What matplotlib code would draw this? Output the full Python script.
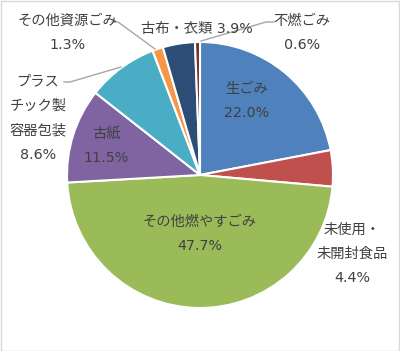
import matplotlib
matplotlib.use("Agg")
import matplotlib.pyplot as plt
from matplotlib.patches import Rectangle

plt.rcParams['font.family'] = ['DejaVu Sans', 'Noto Sans CJK JP']

categories = ["生ごみ", "未使用・\n未開封食品", "その他燃やすごみ", "古紙",
              "プラス\nチック製\n容器包装", "その他資源ごみ", "古布・衣類", "不燃ごみ"]
values = [22.0, 4.4, 47.7, 11.5, 8.6, 1.3, 3.9, 0.6]
colors = ["#4F81BD", "#C0504D", "#9BBB59", "#8064A2", "#4BACC6", "#F79646", "#2C4D75", "#772C2A"]

W, H = 400, 351
CX, CY, R = 200, 175, 133

def d(px, py):
    return ((px - CX) / R, (CY - py) / R)

fig = plt.figure(figsize=(W / 100, H / 100), dpi=100)
ax = fig.add_axes([0, 0, 1, 1])
ax.pie(values, colors=colors, startangle=90, counterclock=False, radius=1,
       wedgeprops=dict(edgecolor="white", linewidth=1.5))
ax.set_xlim(-CX / R, (W - CX) / R)
ax.set_ylim(-(H - CY) / R, CY / R)
ax.set_aspect("equal")
ax.axis("off")

# label layout (pixel positions of label centres)
label_px = [(247, 101), (352, 254), (200, 234), (106, 146), (38, 118),
            (67, 33), (197, 29), (302, 33)]
seps = ["\n", "\n", "\n", "\n", "\n", "\n", " ", "\n"]
tc = "#404040"
for cat, v, (px, py), sep in zip(categories, values, label_px, seps):
    x, y = d(px, py)
    ax.text(x, y, f"{cat}{sep}{v:.1f}%", ha="center", va="center", fontsize=10.3,
            color=tc, linespacing=1.95)

lc = "#A6A6A6"
leaders = [
    [(112, 22), (118, 22), (155, 49)],
    [(64, 82), (70, 82), (121, 67)],
    [(274, 22), (266, 22), (201, 41)],
]
for pts in leaders:
    xs, ys = zip(*[d(*p) for p in pts])
    ax.plot(xs, ys, color=lc, linewidth=1.0)

fig.patches.append(Rectangle((0.5 / W, 0.5 / H), 1 - 1.5 / W, 1 - 1.5 / H,
                             transform=fig.transFigure, fill=False,
                             edgecolor="#D9D9D9", linewidth=1.0))
fig.savefig("out.png", dpi=100)
